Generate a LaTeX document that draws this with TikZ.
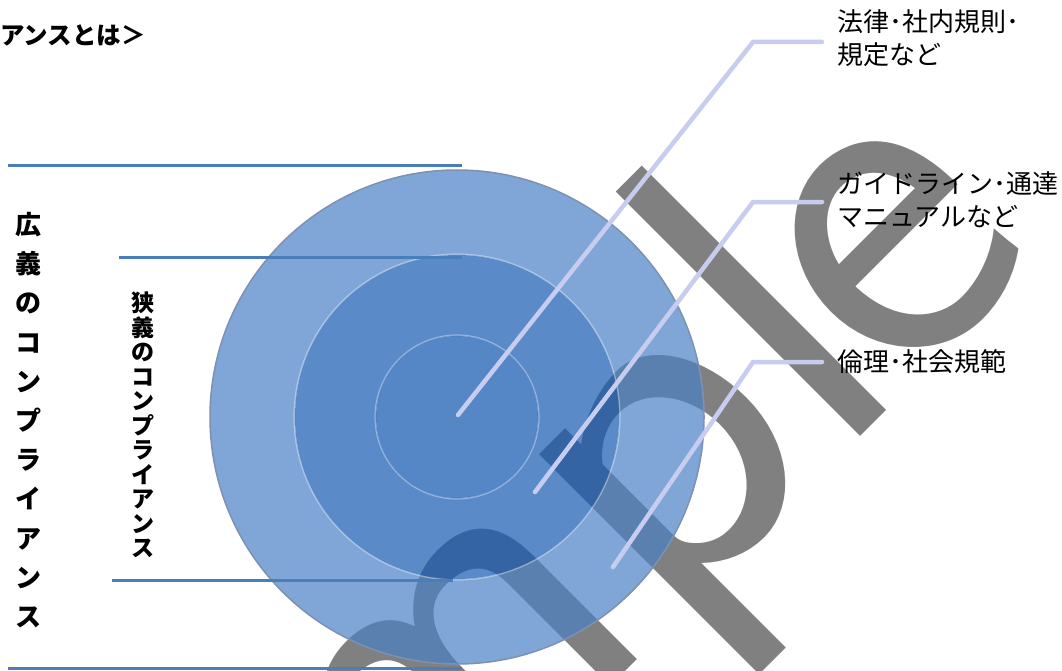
\documentclass[tikz,border=0pt]{standalone}
\usepackage{fontspec}
\newfontfamily\jp{Noto Sans CJK JP}
\definecolor{ringout}{RGB}{73,128,196}
\definecolor{ringmid}{RGB}{21,89,178}
\definecolor{ringin}{RGB}{13,82,174}
\definecolor{rimgray}{RGB}{125,145,178}
\definecolor{bracket}{RGB}{74,126,187}
\definecolor{leader}{RGB}{200,205,240}
\definecolor{wmgray}{RGB}{128,128,128}
\tikzset{every node/.style={font=\jp},
  bracketline/.style={bracket, line width=3pt},
  leaderline/.style={leader, line width=4.5pt, line cap=round},
  layer/.style={even odd rule, opacity=0.7},
  tag/.style={anchor=west, align=left, inner xsep=15pt, inner ysep=0pt,
    font=\jp\fontsize{26}{33}\selectfont},
  vlabel/.style={align=center, inner sep=0pt}}

\begin{document}
\begin{tikzpicture}[x=1pt,y=-1pt]
  \useasboundingbox (0,0) rectangle (1062,671);
  \clip (0,0) rectangle (1062,671);
  % watermark behind everything
  \node[anchor=base west, rotate=45, inner sep=0pt, text=wmgray,
    font=\sffamily\fontsize{498}{498}\selectfont] (wm) at (116,1181) {sampl\kern-22pt e};
  % three rings
  \coordinate (ctr) at (457,417);
  \fill[layer, ringout] (ctr) circle[radius=247pt] (ctr) circle[radius=162pt];
  \fill[layer, ringmid] (ctr) circle[radius=162pt] (ctr) circle[radius=81pt];
  \fill[layer, ringin] (ctr) circle[radius=81pt];
  \draw[rimgray, line width=1.5pt] (ctr) circle[radius=247pt];
  \draw[white, opacity=0.35, line width=1.2pt] (ctr) circle[radius=163pt];
  \draw[white, opacity=0.35, line width=1.2pt] (ctr) circle[radius=82pt];
  % brackets on the left
  \draw[bracketline] (8,166) -- (462,166);
  \draw[bracketline] (119,257) -- (462,257);
  \draw[bracketline] (112,580) -- (453,580);
  \draw[bracketline] (8,668) -- (462,668);
  \node[vlabel, font=\jp\bfseries\fontsize{26}{39.2}\selectfont] (wide) at (28,420)
    {広\\義\\の\\コ\\ン\\プ\\ラ\\イ\\ア\\ン\\ス};
  \node[vlabel, font=\jp\bfseries\fontsize{23}{24.5}\selectfont] (narrow) at (143,425)
    {狭\\義\\の\\コ\\ン\\プ\\ラ\\イ\\ア\\ン\\ス};
  \node[anchor=west, inner sep=0pt, font=\jp\bfseries\fontsize{24.5}{24.5}\selectfont]
    (title) at (0,35) {アンスとは＞};
  % labels on the right
  \node[tag] (law) at (822,38) {法律･社内規則･\\規定など};
  \node[tag] (guide) at (822,200) {ガイドライン･通達\\マニュアルなど};
  \node[tag] (ethic) at (822,362) {倫理･社会規範};
  \coordinate (p1) at (458,415);
  \coordinate (p2) at (535,492);
  \coordinate (p3) at (613,567);
  \coordinate (k1) at (753,42);
  \coordinate (k2) at (753,202);
  \coordinate (k3) at (753,362);
  \draw[leaderline] (p1) -- (k1) -- (k1 -| law.west);
  \draw[leaderline] (p2) -- (k2) -- (k2 -| guide.west);
  \draw[leaderline] (p3) -- (k3) -- (k3 -| ethic.west);
\end{tikzpicture}
\end{document}
